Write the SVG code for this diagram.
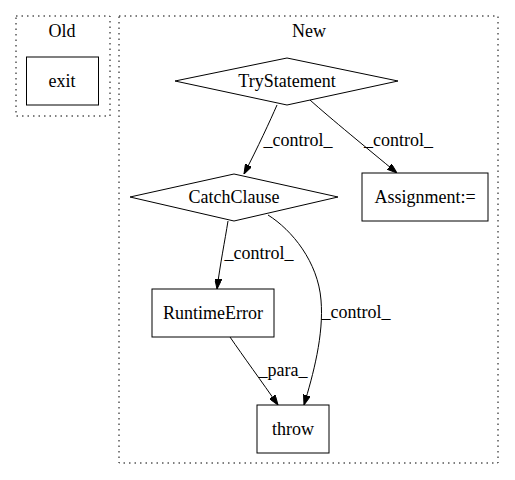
<svg xmlns="http://www.w3.org/2000/svg" width="515" height="480" viewBox="0 0 515 480">
<style>
.t{font-family:"Liberation Serif","Times New Roman",serif;font-size:18px;font-weight:normal;text-anchor:middle;fill:#000;stroke:none}
.cl{fill:none;stroke:#000;stroke-width:1;stroke-dasharray:1.5,4}
.nd{fill:#fff;stroke:#000;stroke-width:1}
.ed{fill:none;stroke:#000;stroke-width:1;marker-end:url(#ah)}
</style>
<defs>
<marker id="ah" viewBox="0 0 10 7" refX="10" refY="3.5" markerWidth="10" markerHeight="7" markerUnits="userSpaceOnUse" orient="auto">
<path d="M0,0 L10,3.5 L0,7 z" fill="#000" stroke="#000" stroke-width="1"/>
</marker>
</defs>
<rect width="515" height="480" fill="#fff"/>
<g id="cluster_old">
<rect class="cl" x="16" y="16" width="94" height="100"/>
<text class="t" x="62" y="36.5">Old</text>
</g>
<g id="cluster_new">
<rect class="cl" x="119" y="16" width="379" height="447"/>
<text class="t" x="309" y="36.5">New</text>
</g>
<g id="connectors">
<path class="ed" d="M277,105 C270,121 258,147 244,174"/>
<text class="t" x="298" y="146">_control_</text>
<path class="ed" d="M310,100 C330,118 368,149 397,173"/>
<text class="t" x="398.5" y="146">_control_</text>
<path class="ed" d="M228,221 C225,240 220,265 217,289"/>
<text class="t" x="259" y="259">_control_</text>
<path class="ed" d="M268,215 C292,230 318,262 321,300 C324,335 313,375 304,405"/>
<text class="t" x="356" y="318">_control_</text>
<path class="ed" d="M230,337 C243,356 262,382 278,405"/>
<text class="t" x="283" y="376">_para_</text>
</g>
<g id="exit">
<rect class="nd" x="26.5" y="57" width="72" height="48"/>
<text class="t" x="62" y="86.5">exit</text>
</g>
<g id="TryStatement">
<polygon class="nd" points="287,58 398,81 287,105 175,81"/>
<text class="t" x="287" y="86.5">TryStatement</text>
</g>
<g id="CatchClause">
<polygon class="nd" points="234,174 338,197 234,221 130,197"/>
<text class="t" x="234" y="202.5">CatchClause</text>
</g>
<g id="Assignment">
<rect class="nd" x="362" y="173" width="126" height="48"/>
<text class="t" x="425" y="202.5">Assignment:=</text>
</g>
<g id="RuntimeError">
<rect class="nd" x="152" y="289" width="122" height="48"/>
<text class="t" x="213" y="318.5">RuntimeError</text>
</g>
<g id="throw">
<rect class="nd" x="257" y="405" width="72" height="48"/>
<text class="t" x="293" y="434.5">throw</text>
</g>
</svg>
